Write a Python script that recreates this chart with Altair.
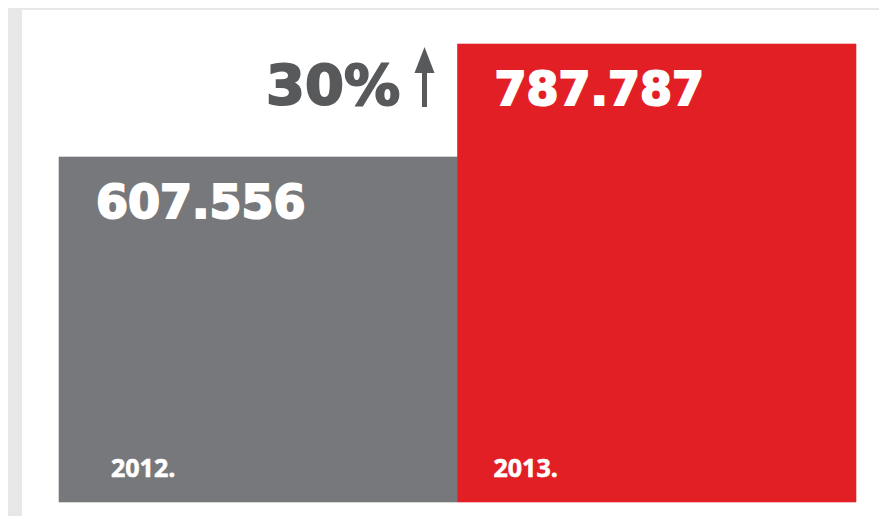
import altair as alt
import pandas as pd

years = ["2012.", "2013."]
values = [607556, 787787]
value_labels = ["607.556", "787.787"]
bar_colors = ["#77787b", "#e31f26"]
growth_label = "30%"
BASE = 57000  # value at the bottom edge of the bars (as drawn)

df = pd.DataFrame({"year": years, "value": values, "label": value_labels})

x_scale = alt.Scale(domain=years, range=[37, 834], paddingInner=0, paddingOuter=0)
y_scale = alt.Scale(domain=[BASE, max(values)], range=[492, 34], zero=False, nice=False)
c_scale = alt.Scale(domain=years, range=bar_colors)

base = alt.Chart(df)

bars = base.mark_bar(cornerRadius=0, strokeWidth=0.6).encode(
    x=alt.X("year:N", scale=x_scale, axis=None),
    y=alt.Y("value:Q", scale=y_scale, axis=None),
    y2=alt.datum(BASE),
    color=alt.Color("year:N", scale=c_scale, legend=None),
    stroke=alt.Stroke("year:N", scale=c_scale, legend=None),
)

vals = base.mark_text(
    font="DejaVu Sans", fontWeight="bold", fontSize=46, color="white",
    stroke="white", strokeWidth=2,
    align="left", baseline="alphabetic", dx=37, dy=61,
).encode(
    x=alt.X("year:N", scale=x_scale, bandPosition=0),
    y=alt.Y("value:Q", scale=y_scale),
    text="label:N",
)

year_2012 = base.transform_filter(alt.datum.year == years[0]).mark_text(
    font="Open Sans", fontWeight="bold", fontSize=25, color="white",
    stroke="white", strokeWidth=0.6,
    align="left", baseline="alphabetic", dx=52, dy=-25,
).encode(
    x=alt.X("year:N", scale=x_scale, bandPosition=0),
    y=alt.datum(BASE),
    text="year:N",
)

year_2013 = base.transform_filter(alt.datum.year == years[1]).mark_text(
    font="Open Sans", fontWeight="bold", fontSize=25, color="white",
    stroke="white", strokeWidth=0.6,
    align="left", baseline="alphabetic", dx=36, dy=-25,
).encode(
    x=alt.X("year:N", scale=x_scale, bandPosition=0),
    y=alt.datum(BASE),
    text="year:N",
)

growth = alt.Chart(pd.DataFrame({"t": [growth_label]})).mark_text(
    font="DejaVu Sans", fontWeight="bold", fontSize=56, color="#58595b",
    stroke="#58595b", strokeWidth=2,
    align="right", baseline="alphabetic",
).encode(
    x=alt.value(378),
    y=alt.value(94),
    text="t:N",
)

shaft = alt.Chart(pd.DataFrame({"a": [1]})).mark_rule(
    color="#58595b", strokeWidth=5
).encode(
    x=alt.value(402.5), y=alt.value(60), y2=alt.value(97),
)

head = alt.Chart(pd.DataFrame({"a": [1]})).mark_point(
    shape="M0,-1L0.77,1L-0.77,1Z", filled=True, opacity=1,
    color="#58595b", size=676, strokeWidth=0,
).encode(
    x=alt.value(402.5), y=alt.value(50),
)

chart = alt.layer(bars, vals, year_2012, year_2013, growth, shaft, head).properties(
    width=857,
    height=506,
    autosize=alt.AutoSizeParams(type="none"),
    padding={"left": 14, "top": 2, "right": 0, "bottom": 0},
    background="#e6e7e8",
).configure_view(
    fill="white", stroke=None, strokeWidth=0
)

chart.save("out.html", embed_options={"renderer": "svg", "actions": False})
